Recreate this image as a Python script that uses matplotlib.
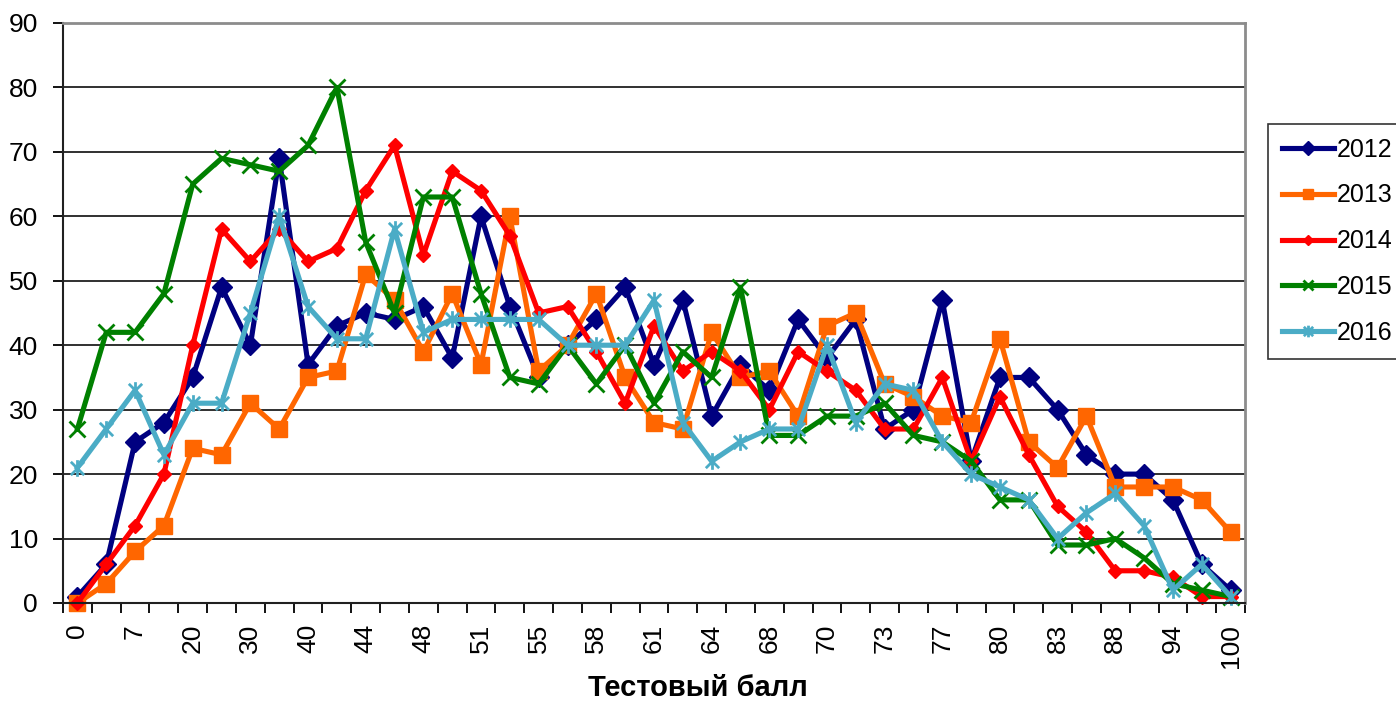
import numpy as np
import matplotlib
matplotlib.use("Agg")
import matplotlib.pyplot as plt
from matplotlib.path import Path

plt.rcParams['font.family'] = ['Liberation Sans', 'DejaVu Sans']

# test score categories (only every second one is labelled on the axis)
scores = ['0', '3', '7', '14', '20', '25', '30', '35', '40', '42', '44', '46',
          '48', '49', '51', '53', '55', '56', '58', '59', '61', '62', '64', '66',
          '68', '69', '70', '72', '73', '75', '77', '78', '80', '82', '83', '85',
          '88', '91', '94', '97', '100']

years = ['2012', '2013', '2014', '2015', '2016']

y2012 = [1, 6, 25, 28, 35, 49, 40, 69, 37, 43, 45, 44, 46, 38, 60, 46, 35, 40, 44, 49,
         37, 47, 29, 37, 33, 44, 38, 44, 27, 30, 47, 22, 35, 35, 30, 23, 20, 20, 16, 6, 2]
y2013 = [0, 3, 8, 12, 24, 23, 31, 27, 35, 36, 51, 47, 39, 48, 37, 60, 36, 40, 48, 35,
         28, 27, 42, 35, 36, 29, 43, 45, 34, 32, 29, 28, 41, 25, 21, 29, 18, 18, 18, 16, 11]
y2014 = [0, 6, 12, 20, 40, 58, 53, 58, 53, 55, 64, 71, 54, 67, 64, 57, 45, 46, 39, 31,
         43, 36, 39, 36, 30, 39, 36, 33, 27, 27, 35, 22, 32, 23, 15, 11, 5, 5, 4, 1, 1]
y2015 = [27, 42, 42, 48, 65, 69, 68, 67, 71, 80, 56, 45, 63, 63, 48, 35, 34, 40, 34, 40,
         31, 39, 35, 49, 26, 26, 29, 29, 31, 26, 25, 22, 16, 16, 9, 9, 10, 7, 3, 2, 1]
y2016 = [21, 27, 33, 23, 31, 31, 45, 60, 46, 41, 41, 58, 42, 44, 44, 44, 44, 40, 40, 40,
         47, 28, 22, 25, 27, 27, 40, 28, 34, 33, 25, 20, 18, 16, 10, 14, 17, 12, 2, 6, 1]

# excel-like "star" marker: x with a vertical bar
star = Path([(-1, -1), (1, 1), (-1, 1), (1, -1), (0, -1.25), (0, 1.25)],
            [Path.MOVETO, Path.LINETO, Path.MOVETO, Path.LINETO, Path.MOVETO, Path.LINETO])

styles = [
    dict(color='#000080', marker='D', ms=10.5),
    dict(color='#FF6600', marker='s', ms=11),
    dict(color='#FF0000', marker='D', ms=7),
    dict(color='#008000', marker='x', ms=11, mew=2),
    dict(color='#4BACC6', marker=star, ms=12, mew=2),
]

fig = plt.figure(figsize=(13.96, 7.01), dpi=100)
ax = fig.add_axes([63 / 1396, 1 - 603 / 701, (1245 - 63) / 1396, (603 - 23) / 701])

x = np.arange(len(scores))
for name, vals, st in zip(years, [y2012, y2013, y2014, y2015, y2016], styles):
    ax.plot(x, vals, lw=3.7, label=name, clip_on=False, **st)

ax.set_xlim(-0.5, len(scores) - 0.5)
ax.set_ylim(0, 90)
ax.set_yticks(range(0, 91, 10))
ax.yaxis.grid(True, color='#202020', lw=1.3)
ax.set_axisbelow(True)

ax.set_xticks(x[::2], labels=scores[::2], rotation=90)
ax.set_xticks(np.arange(-0.5, len(scores), 1), minor=True)
ax.tick_params(axis='x', which='major', length=0, pad=15, labelsize=19)
ax.tick_params(axis='x', which='minor', length=7, width=1.3, direction='out')
ax.tick_params(axis='y', length=7, width=1.3, pad=11, labelsize=19)

for s in ['top', 'right']:
    ax.spines[s].set_color('#8c8c8c')
    ax.spines[s].set_linewidth(2)
for s in ['left', 'bottom']:
    ax.spines[s].set_color('#202020')
    ax.spines[s].set_linewidth(1.5)

fig.text(0.5, 1 - 688 / 701, 'Тестовый балл', ha='center', va='center',
         fontsize=21, fontweight='bold',
         family=['Liberation Sans Narrow', 'Liberation Sans', 'DejaVu Sans'])

leg = fig.legend(loc='upper left', bbox_to_anchor=(1268 / 1396, 1 - 124 / 701),
                 fontsize=18, handlelength=2.1, handletextpad=0.1,
                 labelspacing=0.87, markerscale=0.7, borderaxespad=0,
                 borderpad=0.55, fancybox=False, frameon=True)
leg.get_frame().set_edgecolor('black')
leg.get_frame().set_linewidth(1.2)

fig.savefig('out.png', dpi=100)
